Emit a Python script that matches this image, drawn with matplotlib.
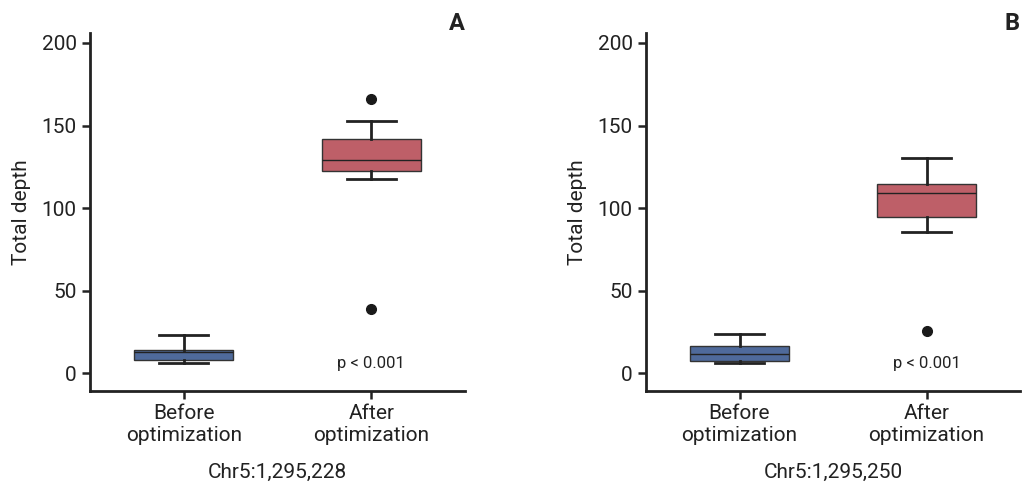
import matplotlib
matplotlib.use('Agg')
from matplotlib import pyplot as plt

plt.rcParams['font.family'] = ['Roboto', 'DejaVu Sans']

groups = ['Before\noptimization', 'After\noptimization']
panels = ['A', 'B']
sites = ['Chr5:1,295,228', 'Chr5:1,295,250']

# five-number summaries: whislo, q1, med, q3, whishi
before_a = [6, 8, 13, 14, 23]
after_a = [117.5, 122.5, 129, 142, 152.5]
before_b = [6.2, 7.6, 11.7, 16.7, 23.6]
after_b = [85.5, 94.8, 109, 114.3, 130.6]
outliers_a = [[], [166, 38.7]]
outliers_b = [[], [25.6]]

colors = ['#4f6a9b', '#be5f68']


def stats(vals, fl):
    lo, q1, med, q3, hi = vals
    return dict(whislo=lo, q1=q1, med=med, q3=q3, whishi=hi, fliers=fl)


def draw(ax, data, fliers, letter, site):
    st = [stats(v, f) for v, f in zip(data, fliers)]
    bp = ax.bxp(st, positions=[1, 2], widths=0.53, patch_artist=True,
                showfliers=True,
                boxprops=dict(edgecolor='#333333', linewidth=1.0),
                medianprops=dict(color='#222222', linewidth=1.0),
                whiskerprops=dict(color='#222222', linewidth=2.0),
                capprops=dict(color='#222222', linewidth=2.0),
                capwidths=0.26,
                flierprops=dict(marker='o', markerfacecolor='#1a1a1a',
                                markeredgecolor='#1a1a1a', markersize=7))
    for patch, c in zip(bp['boxes'], colors):
        patch.set_facecolor(c)
    ax.set_xlim(0.5, 2.5)
    ax.set_ylim(-10.7, 206)
    ax.set_yticks([0, 50, 100, 150, 200])
    ax.set_xticks([1, 2])
    ax.set_xticklabels(groups, fontsize=15, color='#222222')
    ax.tick_params(axis='y', labelsize=15, labelcolor='#222222')
    ax.tick_params(width=1.8, length=6, color='#222222')
    for s in ['top', 'right']:
        ax.spines[s].set_visible(False)
    for s in ['left', 'bottom']:
        ax.spines[s].set_linewidth(2.0)
        ax.spines[s].set_color('#222222')
    ax.set_ylabel('Total depth', fontsize=15, color='#222222', labelpad=8)
    ax.set_xlabel(site, fontsize=15, color='#222222', labelpad=13)
    ax.text(2, 6, 'p < 0.001', ha='center', va='center', fontsize=12,
            color='#222222')
    ax.text(1.0, 1.06, letter, transform=ax.transAxes, ha='right', va='top',
            fontsize=17, fontweight='bold', color='#222222')


fig = plt.figure(figsize=(10.28, 4.97), dpi=100)
ax1 = fig.add_axes([90 / 1028, 1 - 391 / 497, 375 / 1028, 358 / 497])
ax2 = fig.add_axes([646 / 1028, 1 - 391 / 497, 374 / 1028, 358 / 497])

draw(ax1, [before_a, after_a], outliers_a, panels[0], sites[0])
draw(ax2, [before_b, after_b], outliers_b, panels[1], sites[1])

fig.savefig('out.png', dpi=100)
